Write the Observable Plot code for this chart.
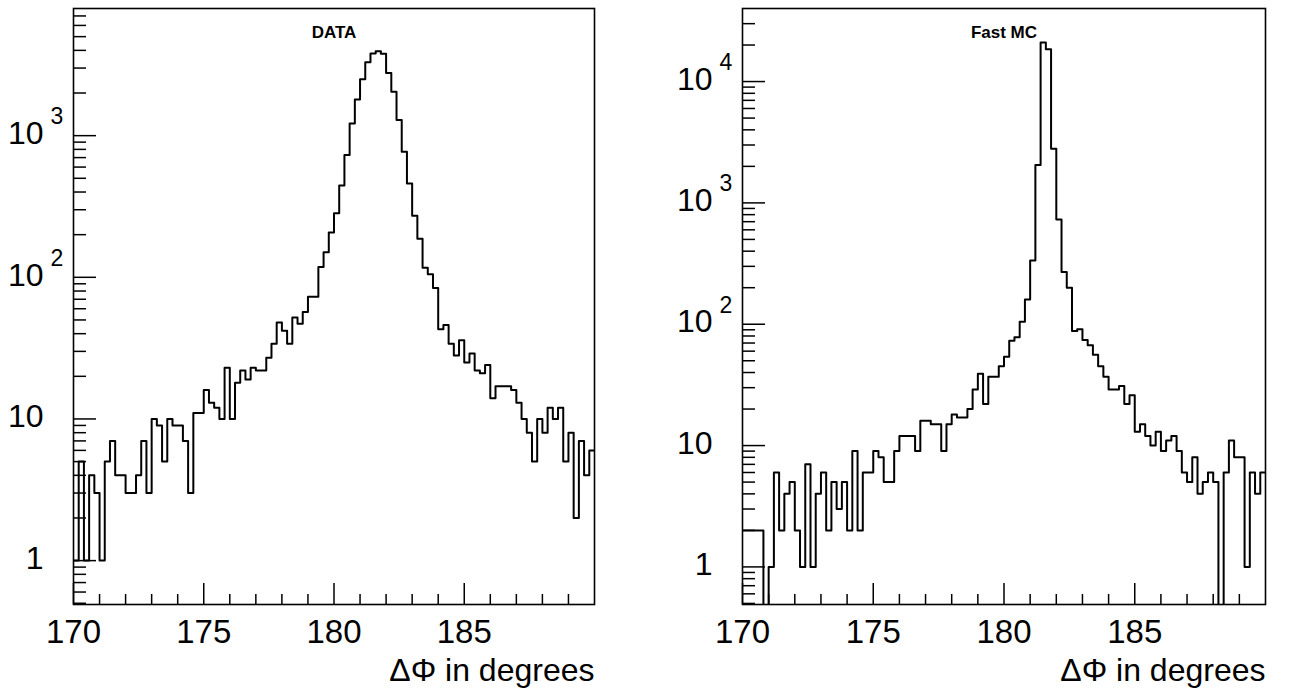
<!DOCTYPE html>
<html><head><meta charset="utf-8">
<script src="https://cdn.jsdelivr.net/npm/d3@7"></script>
<script src="https://cdn.jsdelivr.net/npm/@observablehq/plot@0.6"></script>
<style>
html,body{margin:0;padding:0;background:#fff;}
#wrap{position:relative;width:1295px;height:689px;overflow:hidden;background:#fff;}
#left,#right{position:absolute;top:0;}
#left{left:0;} #right{left:648px;}
</style></head><body>
<div id="wrap"><div id="left"></div><div id="right"></div></div>
<script>
// Histogram binning (Δφ in degrees)
const binStart = 170, binWidth = 0.2;

// DATA counts per 0.2° bin, 170 → 190
const dataCounts = [
  1, 5, 1, 4, 3, 1, 5, 7, 4, 4,
  3, 3, 4, 7, 3, 10, 9, 5, 10, 9,
  9, 7, 3, 11, 11, 16, 13, 12, 10, 23,
  10, 18, 22, 19, 23, 22, 22, 27, 34, 48,
  42, 34, 52, 47, 57, 73, 73, 118, 150, 207,
  283, 445, 730, 1220, 1800, 2500, 3300, 3800, 3950, 3780,
  2770, 2040, 1290, 770, 460, 272, 187, 117, 105, 84,
  43, 46, 34, 28, 36, 25, 29, 22, 21, 24,
  14, 17, 17, 17, 16, 13, 10, 8, 5, 10,
  8, 12, 10, 12, 5, 8, 2, 7, 4, 6
];

// Fast MC counts per 0.2° bin, 170 → 190
const mcCounts = [
  2, 2, 2, 2, 0, 1, 6, 2, 4, 5,
  2, 1, 7, 1, 4, 6, 2, 5, 3, 5,
  2, 9, 2, 6, 6, 9, 8, 5, 5, 9,
  12, 12, 12, 9, 16, 16, 15, 15, 9, 15,
  18, 17, 17, 20, 29, 39, 22, 37, 37, 45,
  54, 73, 78, 105, 160, 335, 2050, 21000, 18500, 2800,
  730, 270, 200, 88, 91, 74, 67, 56, 45, 37,
  29, 29, 31, 22, 26, 13, 15, 12, 10, 13,
  9, 11, 12, 9, 6, 5, 8, 4, 5, 6,
  5, 0, 6, 11, 8, 8, 1, 6, 4, 6
];

const xDomain = [170, 190];
const xMajorTicks = [170, 175, 180, 185];
const xMinorTicks = [171, 172, 173, 174, 176, 177, 178, 179, 181, 182, 183, 184, 186, 187, 188, 189];
const dataDecades = [1, 10, 100, 1000];
const mcDecades = [1, 10, 100, 1000, 10000];
const decadeBase = ["1", "10", "10", "10", "10"];
const decadeExp = ["", "", "2", "3", "4"];
const mantissas = [2, 3, 4, 5, 6, 7, 8, 9];
const dataYDomain = [0.49, 7900];
const mcYDomain = [0.49, 40000];
const titleX = 180;
const xLabel = "ΔΦ in degrees";

const W = 647, H = 689, MT = 8, MB = 85;
const FONT = "'Liberation Sans', Arial, Helvetica, sans-serif";

function panel({counts, yDomain, decades, title, marginLeft, marginRight}) {
  const pts = counts.map((v, i) => ({x: binStart + i * binWidth, v}));
  pts.push({x: binStart + counts.length * binWidth, v: counts[counts.length - 1]});
  const minor = [0.1, ...decades]
    .flatMap(d => mantissas.map(m => +(m * d).toPrecision(3)))
    .filter(v => v > yDomain[0] && v < yDomain[1]);
  const frameW = W - marginLeft - marginRight;
  const frameH = H - MT - MB;
  const lbl = decades.map((d, i) => ({d, base: decadeBase[i], exp: decadeExp[i]}));
  return Plot.plot({
    width: W, height: H,
    marginLeft, marginRight, marginTop: MT, marginBottom: MB,
    style: {fontFamily: FONT, background: "white", color: "black", overflow: "visible"},
    x: {domain: xDomain},
    y: {type: "log", domain: yDomain, axis: null},
    marks: [
      Plot.tickX(xMinorTicks, {x: d => d, insetTop: frameH - 10, stroke: "black", strokeWidth: 1.5}),
      Plot.tickX(xMajorTicks, {x: d => d, insetTop: frameH - 21, stroke: "black", strokeWidth: 1.5}),
      Plot.tickY(minor, {y: d => d, insetRight: frameW - 13, stroke: "black", strokeWidth: 1.5}),
      Plot.tickY(decades, {y: d => d, insetRight: frameW - 23, stroke: "black", strokeWidth: 1.5}),
      Plot.axisX({ticks: xMajorTicks, tickSize: 0, tickPadding: 15, fontSize: 33, label: null, tickFormat: d => String(d)}),
      Plot.text(lbl, {y: "d", text: "base", frameAnchor: "left", dx: -30, dy: -2, textAnchor: "end", fontSize: 32}),
      Plot.text(lbl, {y: "d", text: "exp", frameAnchor: "left", dx: -23, dy: -19, textAnchor: "start", fontSize: 23}),
      Plot.line(pts, {x: "x", y: d => Math.max(d.v, 0.1), curve: "step-after", stroke: "black", strokeWidth: 2, clip: true}),
      Plot.text([title], {x: titleX, frameAnchor: "top", dy: 17, fontSize: 17, fontWeight: "bold", text: d => d}),
      Plot.text([xLabel], {frameAnchor: "bottom-right", dy: 76, textAnchor: "end", fontSize: 32, text: d => d}),
      Plot.frame({stroke: "black", strokeWidth: 1.6})
    ]
  });
}

document.getElementById("left").append(panel({
  counts: dataCounts, yDomain: dataYDomain, decades: dataDecades, title: "DATA",
  marginLeft: 73, marginRight: 53
}));
document.getElementById("right").append(panel({
  counts: mcCounts, yDomain: mcYDomain, decades: mcDecades, title: "Fast MC",
  marginLeft: 94, marginRight: 30
}));
</script>
</body></html>
